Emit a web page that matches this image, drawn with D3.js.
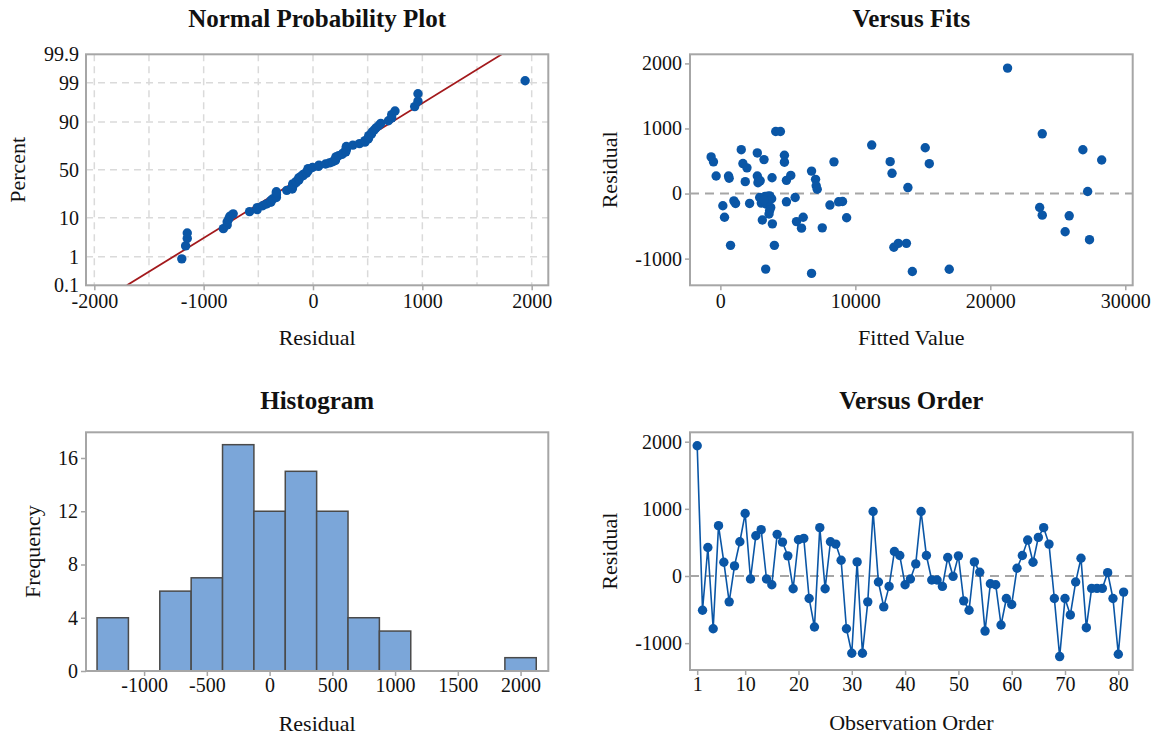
<!DOCTYPE html>
<html lang="en">
<head>
<meta charset="UTF-8">
<title>Residual Plots</title>
<script src="https://d3js.org/d3.v7.min.js"></script>
<style>
    body { margin: 0; background: #fff; }
    text { font-family: "Liberation Serif", "Times New Roman", serif; fill: #111; }
    .tick text { font-size: 20px; font-family: "Liberation Serif", "Times New Roman", serif; }
    .axis-title { font-size: 22px; }
    .chart-title { font-size: 25px; font-weight: bold; }
    .frame { fill: none; stroke: #a6a6a6; stroke-width: 2; }
    .tick line { stroke: #a6a6a6; stroke-width: 1.5; }
    .grid { stroke: #dadada; stroke-width: 1.5; stroke-dasharray: 7,5; }
    .zero { stroke: #a6a6a6; stroke-width: 2; stroke-dasharray: 9,6; }
    .dot { fill: #0a56a6; }
    .bar { fill: #7ba6d9; stroke: #4a4a4a; stroke-width: 1.5; }
</style>
</head>
<body>
<script>
    // residuals in observation order (read from Versus Order)
    const residuals = [1940, -510, 425, -785, 750, 205, -385, 150, 510, 930,
        -45, 600, 690, -45, -130, 620, 505, 300, -190, 540,
        560, -335, -760, 720, -190, 510, 475, 235, -785, -1150,
        210, -1150, -385, 960, -90, -460, -155, 365, 305, -130,
        -45, 180, 960, 305, -60, -60, -155, 275, -5, 300,
        -370, -510, 210, 55, -820, -115, -130, -730, -335, -425,
        115, 305, 535, 205, 575, 720, 475, -335, -1200, -335,
        -580, -90, 265, -770, -185, -185, -185, 50, -335, -1165, -240];

    // Versus Fits points (fitted value, residual)
    const fitsX = [-685, -511, -313, 605, 650, 1547, 1671, 1969, 1845, 2737,
        3233, 2737, 2787, 2950, 2850, 3829, 4101, 4449, 4746, 4746,
        4895, 5217, 6755, 7053, 7100, 7177, 8417,
        183, 1001, 1125, 307, 753, 2167, 2911, 3655, 3035, 3407,
        3729, 3605, 3109, 3853, 4002, 3357, 4895, 5540, 5639, 6135,
        6011, 7549, 6755, 8119, 8764, 9053, 9354, 3300, 3500, 3800,
        3500, 3650, 3250,
        11214, 12581, 12718, 15179, 15480, 13894, 12855, 13183, 13784, 14222,
        16957, 21279, 23849, 23658, 23849, 25545, 25846, 26858, 27213, 27350, 28252];
    const fitsY = [563, 487, 269, 269, 235, 674, 461, 395, 183, 624,
        522, 269, 167, 195, 210, 243, 953, 953, 588, 482,
        203, 279, 345, 218, 120, 66, 487,
        -188, -112, -152, -365, -796, -152, -61, -35, -147, -162,
        -213, -314, -406, -466, -796, -1161, -127, -61, -431, -365,
        -532, -527, -1227, -177, -127, -122, -372, -45, -40, -80,
        -120, -260, -100,
        745, 490, 311, 704, 459, 92, -826, -765, -765, -1198,
        -1163, 1928, 918, -214, -332, -587, -342, 673, 31, -709, 515];

    // Histogram
    const binMid = [-1250, -1000, -750, -500, -250, 0, 250, 500, 750, 1000, 1250, 1500, 1750, 2000];
    const binCount = [4, 0, 6, 7, 17, 12, 15, 12, 4, 3, 0, 0, 0, 1];
    const binWidth = 250;

    // tick values
    const nppXTicks = [-2000, -1000, 0, 1000, 2000];
    const nppGridX = [-2000, -1500, -1000, -500, 0, 500, 1000, 1500, 2000];
    const nppPct = [0.1, 1, 10, 50, 90, 99, 99.9];
    const fitsXTicks = [0, 10000, 20000, 30000];
    const residTicks = [-1000, 0, 1000, 2000];
    const histXTicks = [-1000, -500, 0, 500, 1000, 1500, 2000];
    const histYTicks = [0, 4, 8, 12, 16];
    const orderTicks = [1, 10, 20, 30, 40, 50, 60, 70, 80];

    const width = 1159, height = 738;
    const svg = d3.select("body").append("svg").attr("width", width).attr("height", height);

    // inverse normal cdf (Acklam)
    function probit(p) {
        const a = [-3.969683028665376e+01, 2.209460984245205e+02, -2.759285104469687e+02, 1.383577518672690e+02, -3.066479806614716e+01, 2.506628277459239e+00];
        const b = [-5.447609879822406e+01, 1.615858368580409e+02, -1.556989798598866e+02, 6.680131188771972e+01, -1.328068155288572e+01];
        const c = [-7.784894002430293e-03, -3.223964580411365e-01, -2.400758277161838e+00, -2.549671664985049e+00, 4.374664141464968e+00, 2.938163982698783e+00];
        const d = [7.784695709041462e-03, 3.224671290700398e-01, 2.445134137142996e+00, 3.754408661907416e+00];
        const lo = 0.02425;
        if (p < lo || p > 1 - lo) {
            const q = Math.sqrt(-2 * Math.log(p < lo ? p : 1 - p));
            const v = (((((c[0]*q+c[1])*q+c[2])*q+c[3])*q+c[4])*q+c[5]) / ((((d[0]*q+d[1])*q+d[2])*q+d[3])*q+1);
            return p < lo ? v : -v;
        }
        const q = p - 0.5, r = q * q;
        return (((((a[0]*r+a[1])*r+a[2])*r+a[3])*r+a[4])*r+a[5])*q / (((((b[0]*r+b[1])*r+b[2])*r+b[3])*r+b[4])*r+1);
    }

    function panel(box, title, titleY, xTitle, yTitle, yTitleX) {
        const g = svg.append("g");
        g.append("text").attr("class", "chart-title")
            .attr("x", box.x + box.w / 2).attr("y", titleY)
            .attr("text-anchor", "middle").text(title);
        g.append("text").attr("class", "axis-title")
            .attr("x", box.x + box.w / 2).attr("y", box.y + box.h + 60)
            .attr("text-anchor", "middle").text(xTitle);
        g.append("text").attr("class", "axis-title")
            .attr("transform", `translate(${yTitleX},${box.y + box.h / 2}) rotate(-90)`)
            .attr("text-anchor", "middle").text(yTitle);
        return g;
    }

    function axes(g, box, xAxis, yAxis) {
        g.append("g").attr("transform", `translate(0,${box.y + box.h})`).call(xAxis)
            .attr("font-family", null).attr("font-size", null)
            .call(s => s.select(".domain").remove());
        g.append("g").attr("transform", `translate(${box.x},0)`).call(yAxis)
            .attr("font-family", null).attr("font-size", null)
            .call(s => s.select(".domain").remove());
    }

    function frame(g, box) {
        g.append("rect").attr("class", "frame")
            .attr("x", box.x).attr("y", box.y).attr("width", box.w).attr("height", box.h);
    }

    function clipFor(id, box) {
        svg.append("clipPath").attr("id", id).append("rect")
            .attr("x", box.x).attr("y", box.y).attr("width", box.w).attr("height", box.h);
        return `url(#${id})`;
    }

    const fmt = d => String(d);
    const dotR = 4.7;

    // ---------- Normal Probability Plot ----------
    const nppBox = {x: 86, y: 54.3, w: 462.3, h: 231};
    const gN = panel(nppBox, "Normal Probability Plot", 27, "Residual", "Percent", 25);
    const xN = d3.scaleLinear().domain([-2076, 2152]).range([nppBox.x, nppBox.x + nppBox.w]);
    const zN = d3.scaleLinear().domain([probit(0.001), probit(0.999)]).range([nppBox.y + nppBox.h, nppBox.y]);

    gN.selectAll(".gx").data(nppGridX).enter().append("line").attr("class", "grid")
        .attr("x1", d => xN(d)).attr("x2", d => xN(d))
        .attr("y1", nppBox.y).attr("y2", nppBox.y + nppBox.h);
    gN.selectAll(".gy").data(nppPct.slice(1, -1)).enter().append("line").attr("class", "grid")
        .attr("x1", nppBox.x).attr("x2", nppBox.x + nppBox.w)
        .attr("y1", d => zN(probit(d / 100))).attr("y2", d => zN(probit(d / 100)));

    axes(gN, nppBox,
        d3.axisBottom(xN).tickValues(nppXTicks).tickFormat(fmt).tickSize(5).tickPadding(4),
        d3.axisLeft(d3.scaleLinear().domain(zN.domain()).range(zN.range()))
            .tickValues(nppPct.map(p => probit(p / 100)))
            .tickFormat((d, i) => String(nppPct[i])).tickSize(0).tickPadding(7));

    const sorted = residuals.slice().sort((a, b) => a - b);
    const n = sorted.length;
    const mu = d3.mean(residuals), sd = d3.deviation(residuals);
    const zLo = zN.domain()[0], zHi = zN.domain()[1];
    gN.append("line").attr("clip-path", clipFor("clipN", nppBox))
        .attr("x1", xN(mu + sd * zLo)).attr("y1", zN(zLo))
        .attr("x2", xN(mu + sd * zHi)).attr("y2", zN(zHi))
        .attr("stroke", "#a3191c").attr("stroke-width", 1.8);
    gN.selectAll(".dot").data(sorted).enter().append("circle").attr("class", "dot")
        .attr("cx", d => xN(d))
        .attr("cy", (d, i) => zN(probit((i + 1 - 0.3) / (n + 0.4))))
        .attr("r", dotR);
    frame(gN, nppBox);

    // ---------- Versus Fits ----------
    const fitsBox = {x: 690, y: 54.3, w: 442.7, h: 231};
    const gF = panel(fitsBox, "Versus Fits", 27, "Fitted Value", "Residual", 617);
    const xF = d3.scaleLinear().domain([-2250, 30550]).range([fitsBox.x, fitsBox.x + fitsBox.w]);
    const yF = d3.scaleLinear().domain([-1410, 2140]).range([fitsBox.y + fitsBox.h, fitsBox.y]);
    axes(gF, fitsBox,
        d3.axisBottom(xF).tickValues(fitsXTicks).tickFormat(fmt).tickSize(5).tickPadding(4),
        d3.axisLeft(yF).tickValues(residTicks).tickFormat(fmt).tickSize(5).tickPadding(3));
    gF.append("line").attr("class", "zero")
        .attr("x1", fitsBox.x).attr("x2", fitsBox.x + fitsBox.w)
        .attr("y1", yF(0)).attr("y2", yF(0));
    gF.selectAll(".dot").data(fitsX).enter().append("circle").attr("class", "dot")
        .attr("cx", d => xF(d)).attr("cy", (d, i) => yF(fitsY[i])).attr("r", dotR);
    frame(gF, fitsBox);

    // ---------- Histogram ----------
    const histBox = {x: 86, y: 432.3, w: 462.3, h: 238.7};
    const gH = panel(histBox, "Histogram", 409, "Residual", "Frequency", 40);
    const xH = d3.scaleLinear().domain([-1463, 2221]).range([histBox.x, histBox.x + histBox.w]);
    const yH = d3.scaleLinear().domain([0, 17.93]).range([histBox.y + histBox.h, histBox.y]);
    axes(gH, histBox,
        d3.axisBottom(xH).tickValues(histXTicks).tickFormat(fmt).tickSize(5).tickPadding(2),
        d3.axisLeft(yH).tickValues(histYTicks).tickFormat(fmt).tickSize(5).tickPadding(3));
    gH.selectAll(".bar").data(binMid.filter((d, i) => binCount[i] > 0)).enter().append("rect")
        .attr("class", "bar")
        .attr("x", d => xH(d - binWidth / 2))
        .attr("width", d => xH(d + binWidth / 2) - xH(d - binWidth / 2))
        .attr("y", d => yH(binCount[binMid.indexOf(d)]))
        .attr("height", d => yH(0) - yH(binCount[binMid.indexOf(d)]));
    gH.append("line").attr("x1", xH(binMid[0] - binWidth / 2)).attr("x2", xH(binMid[binMid.length - 1] + binWidth / 2))
        .attr("y1", yH(0)).attr("y2", yH(0)).attr("stroke", "#4a4a4a").attr("stroke-width", 1.5);
    frame(gH, histBox);

    // ---------- Versus Order ----------
    const orderBox = {x: 690, y: 432.3, w: 442.7, h: 237.7};
    const gO = panel(orderBox, "Versus Order", 409, "Observation Order", "Residual", 617);
    const xO = d3.scaleLinear().domain([-0.35, 82.7]).range([orderBox.x, orderBox.x + orderBox.w]);
    const yO = d3.scaleLinear().domain([-1400, 2140]).range([orderBox.y + orderBox.h, orderBox.y]);
    axes(gO, orderBox,
        d3.axisBottom(xO).tickValues(orderTicks).tickFormat(fmt).tickSize(5).tickPadding(2),
        d3.axisLeft(yO).tickValues(residTicks).tickFormat(fmt).tickSize(5).tickPadding(3));
    gO.append("line").attr("class", "zero")
        .attr("x1", orderBox.x).attr("x2", orderBox.x + orderBox.w)
        .attr("y1", yO(0)).attr("y2", yO(0));
    gO.append("path").datum(residuals)
        .attr("fill", "none").attr("stroke", "#0a56a6").attr("stroke-width", 1.6)
        .attr("d", d3.line().x((d, i) => xO(i + 1)).y(d => yO(d)));
    gO.selectAll(".dot").data(residuals).enter().append("circle").attr("class", "dot")
        .attr("cx", (d, i) => xO(i + 1)).attr("cy", d => yO(d)).attr("r", dotR);
    frame(gO, orderBox);

    svg.selectAll(".tick text").attr("fill", "#111");
</script>
</body>
</html>
